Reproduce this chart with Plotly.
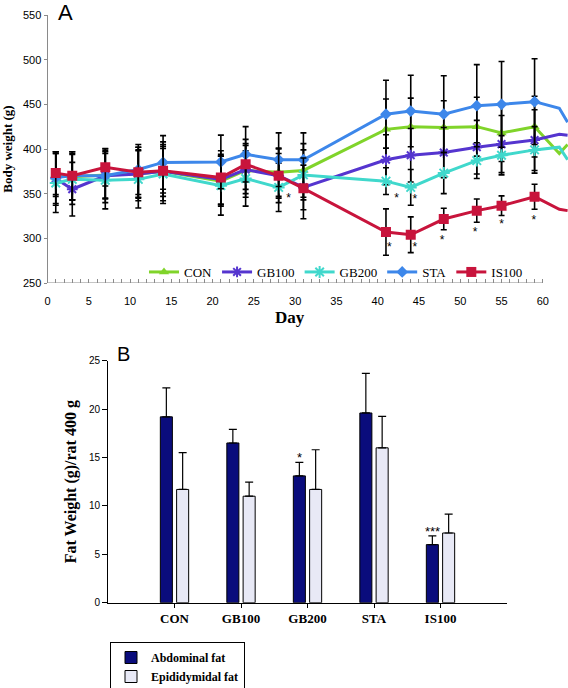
import plotly.graph_objects as go

# ---------------- Panel A data ----------------
days = [1, 3, 7, 11, 14, 21, 24, 28, 31, 41, 44, 48, 52, 55, 59, 62, 63]
CON = [371, 369, 371, 372, 375, 364, 376, 374, 376, 422, 425, 424, 425, 418, 425, 395, 405]
GB100 = [367, 355, 370, 372, 375, 366, 377, 370, 357, 388, 393, 396, 402, 405.5, 410, 416.5, 415.5]
GB200 = [362, 366, 365, 366, 372, 359, 367, 357, 371, 364, 357, 373, 387, 393, 399, 402, 388]
STA = [368, 370, 370, 377, 385, 385.5, 394, 388, 388, 439, 442.5, 439, 448.5, 450, 453, 445.5, 430]
IS100 = [373, 370, 379.5, 374, 375.7, 368, 382.8, 370, 356, 307, 304, 321.6, 331, 336.5, 346.6, 332.5, 331]

CON_sd = [24, 26, 27, 30, 33, 28, 30, 27, 30, 34, 32, 30, 33, 32, 34]
GB100_sd = [30, 30, 25, 27, 28, 28, 27, 25, 25, 28, 30, 28, 30, 32, 34]
GB200_sd = [33, 28, 32, 32, 33, 33, 31, 27, 28, 15, 20, 23, 20, 22, 26]
STA_sd = [29, 27, 30, 28, 30, 30, 31, 30, 30, 38, 40, 43, 46, 48, 48]
IS100_sd = [24, 27, 21, 28, 25, 30, 28, 30, 34, 26, 20, 12, 13, 11, 14]

star_days = [29.2, 42.3, 44.5, 41.4, 44.5, 47.8, 51.8, 55, 58.9]
star_vals = [344.5, 344.3, 342.4, 288.7, 288.7, 297, 306.2, 314.4, 319.3]

xtick_vals = list(range(0, 61))

# ---------------- Panel B data ----------------
groups = ["CON", "GB100", "GB200", "STA", "IS100"]
abdominal = [19.2, 16.5, 13.1, 19.6, 6.0]
abdominal_err = [3.0, 1.4, 1.4, 4.1, 0.9]
epididymal = [11.7, 11.0, 11.7, 16.0, 7.2]
epididymal_err = [3.8, 1.45, 4.1, 3.25, 1.95]
signif = ["", "", "*", "", "***"]

W, H = 568, 688
SERIF = "Liberation Serif, Times New Roman, serif"
SANS = "Liberation Sans, Arial, sans-serif"

fig = go.Figure()

series = [
    ("CON", CON, CON_sd, "#80d42a", "triangle-up", 9, False),
    ("GB100", GB100, GB100_sd, "#5535cf", "asterisk-open", 9, True),
    ("GB200", GB200, GB200_sd, "#40d8cc", "asterisk-open", 10, True),
    ("STA", STA, STA_sd, "#3d87ea", "diamond", 9, False),
    ("IS100", IS100, IS100_sd, "#c8143c", "square", 10, False),
]
n = len(CON_sd)
for name, vals, sd, col, sym, size, openm in series:
    fig.add_trace(go.Scatter(
        x=days[:n], y=vals[:n], name=name, mode="lines+markers",
        line=dict(color=col, width=3),
        marker=dict(symbol=sym, size=size, color=col,
                    line=dict(color=col, width=2 if openm else 0)),
        error_y=dict(type="data", array=sd, color="black", thickness=1.6, width=3),
        xaxis="x", yaxis="y", legend="legend",
    ))
    fig.add_trace(go.Scatter(
        x=days[n - 1:], y=vals[n - 1:], mode="lines", showlegend=False,
        line=dict(color=col, width=3), xaxis="x", yaxis="y", hoverinfo="skip",
    ))

fig.add_trace(go.Scatter(
    x=star_days, y=star_vals, mode="text", text=["*"] * len(star_days),
    textfont=dict(family=SANS, size=12, color="black"), showlegend=False,
    xaxis="x", yaxis="y",
))

# Panel B bars
fig.add_trace(go.Bar(
    x=groups, y=abdominal, name="Abdominal fat",
    marker=dict(color="#0a0c7c", line=dict(color="black", width=1)),
    error_y=dict(type="data", array=abdominal_err, arrayminus=[0] * 5, symmetric=False,
                 color="black", thickness=1.2, width=4),
    xaxis="x2", yaxis="y2", legend="legend2",
))
fig.add_trace(go.Bar(
    x=groups, y=epididymal, name="Epididymidal fat",
    marker=dict(color="#e8e9f6", line=dict(color="black", width=1)),
    error_y=dict(type="data", array=epididymal_err, arrayminus=[0] * 5, symmetric=False,
                 color="black", thickness=1.2, width=4),
    xaxis="x2", yaxis="y2", legend="legend2",
))

annotations = [
    dict(text="A", x=65 / W, y=1 - 12 / H, xref="paper", yref="paper", showarrow=False,
         font=dict(family=SANS, size=22, color="black"), xanchor="center", yanchor="middle"),
    dict(text="B", x=123 / W, y=1 - 354 / H, xref="paper", yref="paper", showarrow=False,
         font=dict(family=SANS, size=20, color="black"), xanchor="center", yanchor="middle"),
    dict(text="Day", x=290 / W, y=1 - 318 / H, xref="paper", yref="paper", showarrow=False,
         font=dict(family=SERIF, size=17, color="black", weight="bold"),
         xanchor="center", yanchor="middle"),
]
for g, v, e, s in zip(groups, abdominal, abdominal_err, signif):
    if s:
        annotations.append(dict(text=s, x=g, y=v + e, xref="x2", yref="y2", showarrow=False,
                                xshift=-8, yshift=-5, yanchor="bottom",
                                font=dict(family=SANS, size=13, color="black")))

fig.update_layout(
    width=W, height=H, margin=dict(l=0, r=0, t=0, b=0, autoexpand=False),
    paper_bgcolor="white", plot_bgcolor="white",
    barmode="group", bargap=0.51, bargroupgap=0.26,
    annotations=annotations,
    shapes=[dict(type="line", xref="x", yref="y", x0=0, x1=60, y0=250, y1=250,
                 line=dict(color="#8a8a8a", width=1))],
    xaxis=dict(domain=[47.5 / W, 1.0], range=[0, 63.05], anchor="y",
               tickvals=xtick_vals,
               ticktext=[str(v) if v % 5 == 0 else "" for v in xtick_vals],
               ticks="inside", ticklen=4, tickcolor="#8a8a8a", tickwidth=1,
               showline=False, showgrid=False, zeroline=False,
               tickfont=dict(family=SANS, size=11, color="black"),
               ticklabelstandoff=10),
    yaxis=dict(domain=[1 - 283 / H, 1 - 15 / H], range=[250, 550], anchor="x",
               dtick=50, ticks="outside", ticklen=3, tickcolor="#8a8a8a",
               showline=True, linecolor="#8a8a8a", linewidth=1,
               showgrid=False, zeroline=False,
               tickfont=dict(family=SANS, size=11, color="black"),
               title=dict(text="Body weight (g)", standoff=8,
                          font=dict(family=SERIF, size=13, color="black", weight="bold"))),
    xaxis2=dict(domain=[108 / W, 507 / W], range=[-1, 5], anchor="y2", type="category",
                ticks="outside", ticklen=4, tickcolor="black",
                showline=True, linecolor="black", linewidth=1, showgrid=False,
                tickfont=dict(family=SERIF, size=13, color="black", weight="bold")),
    yaxis2=dict(domain=[1 - 602.7 / H, 1 - 360.7 / H], range=[0, 25], anchor="x2",
                dtick=5, ticks="outside", ticklen=5, tickcolor="black",
                showline=True, linecolor="black", linewidth=1,
                showgrid=False, zeroline=False,
                tickfont=dict(family=SANS, size=10, color="black"),
                title=dict(text="Fat Weight (g)/rat 400 g", standoff=8,
                           font=dict(family=SERIF, size=16, color="black", weight="bold"))),
    legend=dict(orientation="h", x=336 / W, y=1 - 272 / H, xanchor="center", yanchor="middle",
                bgcolor="rgba(0,0,0,0)", font=dict(family=SERIF, size=13, color="black"),
                itemwidth=30, tracegroupgap=0),
    legend2=dict(orientation="v", x=110 / W, y=1 - 642 / H, xanchor="left", yanchor="top",
                 bgcolor="white", bordercolor="black", borderwidth=1,
                 font=dict(family=SERIF, size=12, color="black", weight="bold"),
                 itemwidth=30, tracegroupgap=0),
)

fig.write_html("out.html", config={"displayModeBar": False},
               post_script="document.body.style.margin='0';document.body.style.overflow='hidden';")
